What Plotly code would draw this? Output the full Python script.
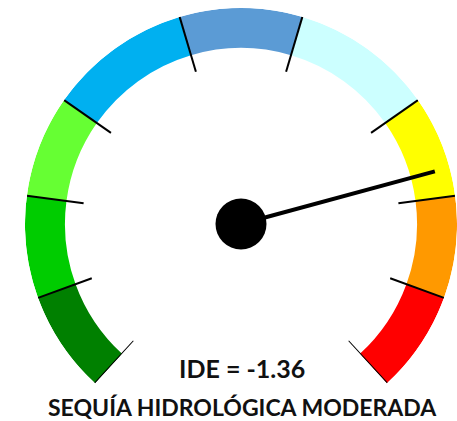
import plotly.graph_objects as go

# Band edges in IDE units (left = wet, right = dry)
band_edges = [2.5, 2.0, 1.5, 1.0, 0.3, -0.3, -1.0, -1.5, -2.0, -2.5]
band_colors = ["#008000", "#00CC00", "#66FF33", "#00B0F0", "#5B9BD5",
               "#CCFFFF", "#FFFF00", "#FF9900", "#FF0000"]
ide_value = -1.36
label_value = "IDE = -1.36"
label_class = "SEQUÍA HIDROLÓGICA MODERADA"

# angle mapping of the gauge scale (degrees, counterclockwise from east)
DEG_PER_UNIT = 55.0
def ang(v):
    return 90.0 + DEG_PER_UNIT * v

R_IN, R_OUT, TICK_IN, NEEDLE = 0.815, 1.0, 0.735, 0.93

fig = go.Figure()

thetas, widths = [], []
for a, b in zip(band_edges[:-1], band_edges[1:]):
    thetas.append((ang(a) + ang(b)) / 2)
    widths.append(abs(ang(a) - ang(b)))
fig.add_trace(go.Barpolar(
    theta=thetas, r=[R_OUT - R_IN] * len(thetas), base=[R_IN] * len(thetas),
    width=widths, marker=dict(color=band_colors, line=dict(width=0)),
    hoverinfo="skip", showlegend=False))

for e in band_edges:
    fig.add_trace(go.Scatterpolar(
        theta=[ang(e), ang(e)], r=[TICK_IN, R_OUT], mode="lines",
        line=dict(color="black", width=2), hoverinfo="skip", showlegend=False))

fig.add_trace(go.Scatterpolar(
    theta=[ang(ide_value), ang(ide_value)], r=[0, NEEDLE], mode="lines",
    line=dict(color="black", width=4), hoverinfo="skip", showlegend=False))
fig.add_trace(go.Scatterpolar(
    theta=[0], r=[0], mode="markers",
    marker=dict(color="black", size=51), hoverinfo="skip", showlegend=False))

W, H = 457, 421
cx, cy, R = 241, 224, 216
bottom = cy + R * 0.7373
fig.update_layout(
    width=W, height=H, margin=dict(l=0, r=0, t=0, b=0),
    paper_bgcolor="white", plot_bgcolor="white",
    polar=dict(
        domain=dict(x=[(cx - R) / W, min(1.0, (cx + R) / W)],
                    y=[(H - bottom) / H, (H - (cy - R)) / H]),
        sector=[ang(band_edges[-1]), ang(band_edges[0])],
        bgcolor="rgba(0,0,0,0)",
        radialaxis=dict(range=[0, 1], visible=False, showgrid=False),
        angularaxis=dict(visible=False, showgrid=False, direction="counterclockwise",
                         rotation=0),
    ),
    annotations=[
        dict(text=f"<b>{label_value}</b>", x=241.5 / W, y=1 - 367.5 / H, xref="paper", yref="paper",
             xanchor="center", yanchor="middle",
             showarrow=False, font=dict(family="Lato", size=25, color="#111111")),
        dict(text=f"<b>{label_class}</b>", x=242 / W, y=1 - 407 / H, xref="paper", yref="paper",
             xanchor="center", yanchor="middle", borderpad=0,
             showarrow=False, font=dict(family="Lato", size=23, color="#111111")),
    ],
)
fig.write_html("out.html", config={"displayModeBar": False, "staticPlot": True},
               post_script="document.body.style.margin='0px';document.body.style.overflow='hidden';")
